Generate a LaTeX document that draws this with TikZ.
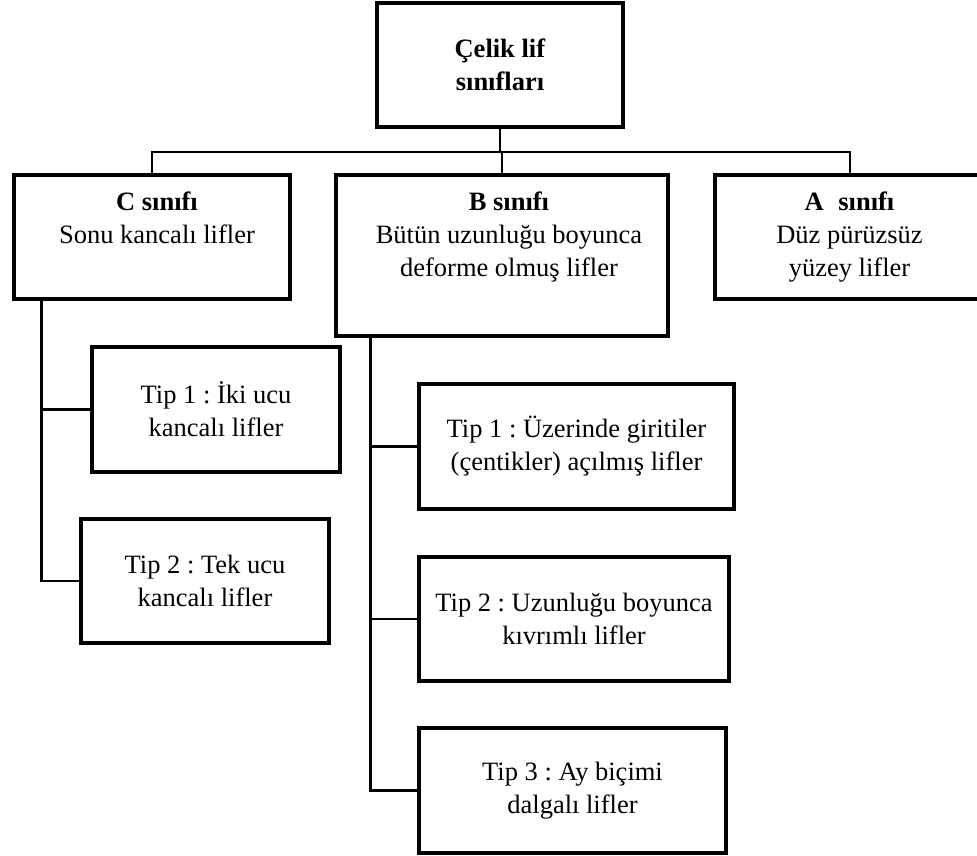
\documentclass[tikz,border=0pt]{standalone}
\usepackage{fontspec}
\setmainfont{Liberation Serif}
\frenchspacing
\begin{document}
\begin{tikzpicture}[x=1pt,y=-1pt,
  box/.style={draw=black, line width=4.8pt, fill=white, inner sep=0pt, align=center, font=\fontsize{26.5}{33}\selectfont},
  txt/.style={inner sep=0pt, align=center, font=\fontsize{26.5}{33}\selectfont},
  conn/.style={draw=black, line width=2.6pt}]
\useasboundingbox[fill=white] (0,0) rectangle (977,856);

% boxes
\node[box, minimum width=246pt, minimum height=124pt] (T) at (500,65) {\textbf{Çelik lif}\\\textbf{sınıfları}};
\node[box, minimum width=276pt, minimum height=124pt] (C) at (152,237) {};
\node[box, minimum width=332pt, minimum height=161pt] (B) at (502,255.5) {};
\node[box, minimum width=265pt, minimum height=124pt] (A) at (847.5,237) {};

\node[txt, anchor=north] (Ct) at ([xshift=5pt,yshift=-19pt]C.north) {\textbf{C sınıfı}\\Sonu kancalı lifler};
\node[txt, anchor=north] (Bt) at ([xshift=7pt,yshift=-19pt]B.north) {\textbf{B sınıfı}\\Bütün uzunluğu boyunca\\deforme olmuş lifler};
\node[txt, anchor=north] (At) at ([xshift=2pt,yshift=-19pt]A.north) {\textbf{A\hspace{0.55em}sınıfı}\\Düz pürüzsüz\\yüzey lifler};

\node[box, minimum width=248pt, minimum height=125pt] (CT1) at (216,409.5) {Tip 1 : İki ucu\\kancalı lifler};
\node[box, minimum width=248pt, minimum height=124pt] (CT2) at (205,581) {Tip 2 : Tek ucu\\kancalı lifler};

\node[box, minimum width=315pt, minimum height=125pt] (BT1) at (576.5,446.5) {Tip 1 : Üzerinde giritiler\\(çentikler) açılmış lifler};
\node[box, minimum width=310pt, minimum height=124pt] (BT2) at (574,619) {Tip 2 : Uzunluğu boyunca\\kıvrımlı lifler};
\node[box, minimum width=307pt, minimum height=125pt] (BT3) at (572.5,790.5) {Tip 3 : Ay biçimi\\dalgalı lifler};

% connectors
\coordinate (bus) at (0,152);
\draw[conn] (T.south) -- (T.south |- bus);
\draw[conn] (C.north) -- (C.north |- bus) -- ([xshift=2.5pt]A.north |- bus) -- ([xshift=2.5pt]A.north);
\draw[conn] (B.north) -- (B.north |- bus);

\coordinate (Cs) at ([xshift=30pt]C.south west);
\draw[conn] (Cs) |- (CT2.west);
\draw[conn] (CT1.west) -- (CT1.west -| Cs);

\coordinate (Bs) at ([xshift=37pt]B.south west);
\draw[conn] (Bs) |- (BT3.west);
\draw[conn] (BT1.west) -- (BT1.west -| Bs);
\draw[conn] (BT2.west) -- (BT2.west -| Bs);
\end{tikzpicture}
\end{document}
